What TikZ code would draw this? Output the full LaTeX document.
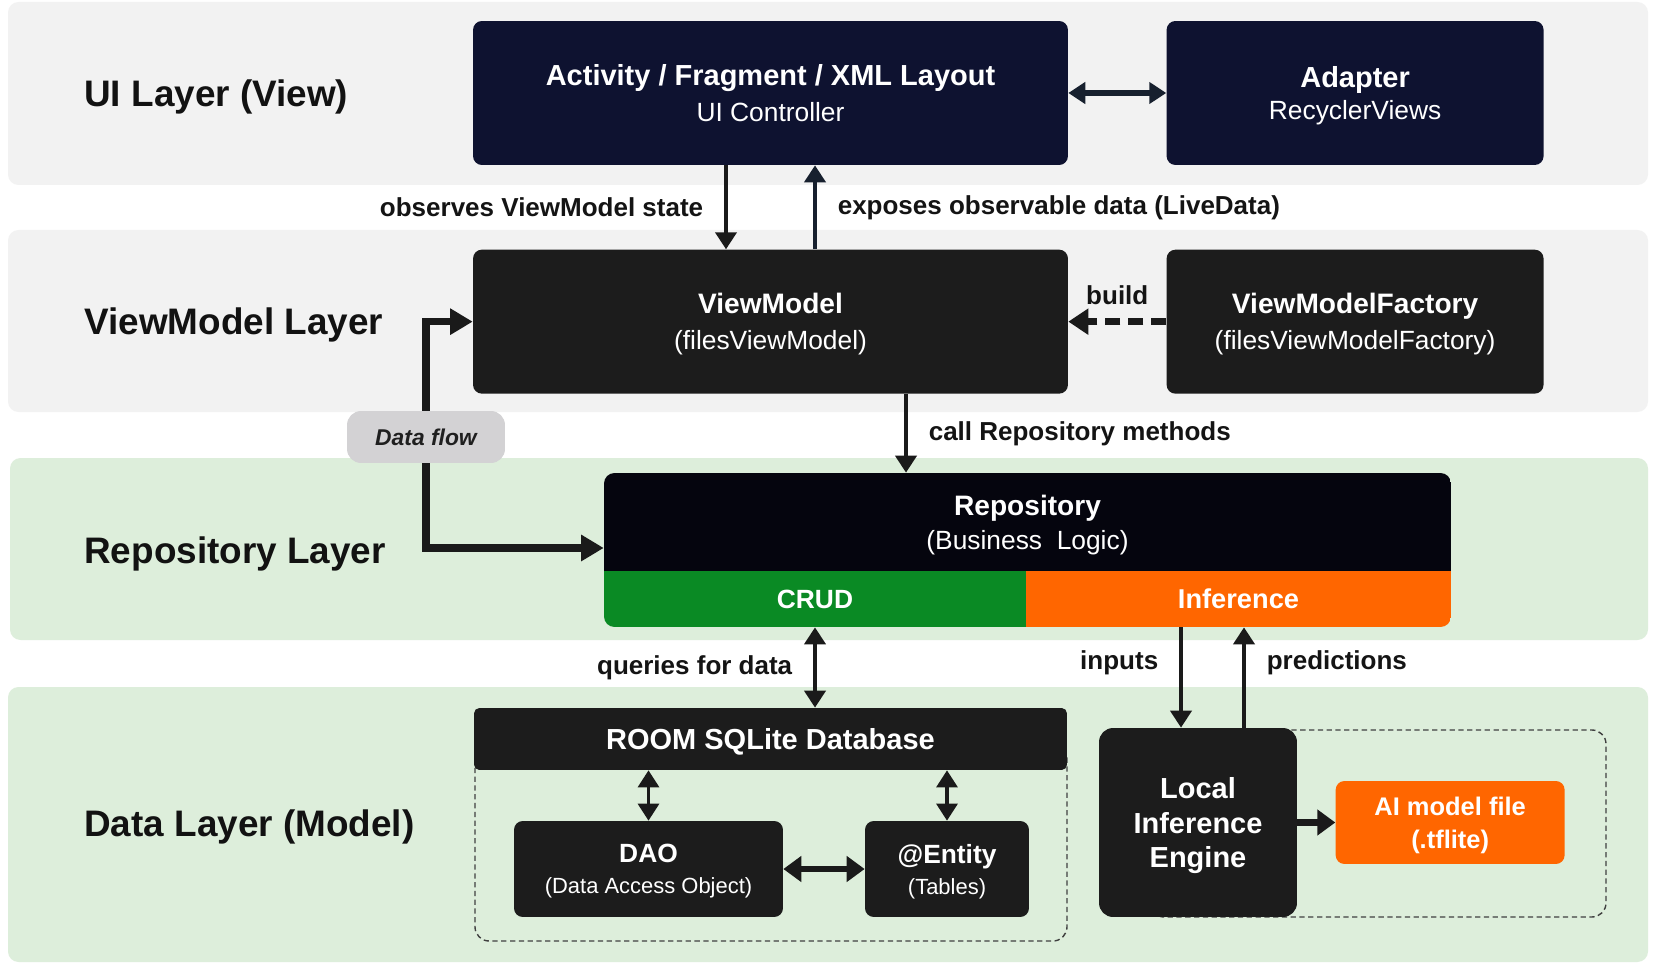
\documentclass[tikz,border=0pt]{standalone}
\usepackage{fontspec}
\setmainfont{Liberation Sans}
\usetikzlibrary{arrows.meta,positioning,calc}

\definecolor{bandgray}{HTML}{F2F2F2}
\definecolor{bandgreen}{HTML}{DDEEDB}
\definecolor{uinavy}{HTML}{0E1230}
\definecolor{boxblack}{HTML}{1C1C1C}
\definecolor{repoblack}{HTML}{05050E}
\definecolor{crudgreen}{HTML}{0A8A24}
\definecolor{inferorange}{HTML}{FF6600}
\definecolor{arrowdark}{HTML}{1A1A1A}
\definecolor{arrownavy}{HTML}{17202E}
\definecolor{flowgray}{HTML}{D3D2D4}

\tikzset{
  band/.style={rounded corners=6pt},
  layerlabel/.style={font=\fontsize{21}{25}\selectfont\bfseries, text=black!93, anchor=west, inner sep=0pt},
  boxbase/.style={rounded corners=5pt, text=white, align=center, inner sep=2pt, text depth=0pt},
  uibox/.style={boxbase, fill=uinavy},
  darkbox/.style={boxbase, fill=boxblack},
  lbl/.style={font=\fontsize{14.8}{17}\selectfont\bfseries, text=black!92},
  grpline/.style={draw=black!75, line width=0.8pt, densely dashed, rounded corners=8pt},
  arr/.style={draw=arrowdark, line width=2.2pt, -{Triangle[length=0.34cm,width=0.42cm]}},
  dblarr/.style={draw=arrowdark, line width=2.2pt, {Triangle[length=0.34cm,width=0.42cm]}-{Triangle[length=0.34cm,width=0.42cm]}},
  thickdbl/.style={draw=arrowdark, line width=3.4pt, {Triangle[length=0.36cm,width=0.5cm]}-{Triangle[length=0.36cm,width=0.5cm]}},
  thickarr/.style={draw=arrowdark, line width=4pt, -{Triangle[length=0.36cm,width=0.5cm]}},
  flowarr/.style={draw=arrowdark, line width=4pt, -{Triangle[length=0.45cm,width=0.5cm]}},
  dasharr/.style={draw=arrowdark, line width=4pt, dash pattern=on 0.3cm off 0.16cm, -{Triangle[length=0.4cm,width=0.5cm]}},
}

\begin{document}
\begin{tikzpicture}[x=0.02cm, y=-0.02cm]
  \useasboundingbox (0,0) rectangle (1654,966);
  \fill[white] (0,0) rectangle (1654,966);

  % layer bands
  \fill[band, bandgray] (8,2) rectangle (1648,185);
  \fill[band, bandgray] (8,230) rectangle (1648,412);
  \fill[band, bandgreen] (10,458) rectangle (1648,640);
  \fill[band, bandgreen] (8,687) rectangle (1648,962);

  % layer names
  \node[layerlabel] (uiname) at (84,97) {UI Layer (View)};
  \node[layerlabel] (vmname) at (84,325) {ViewModel Layer};
  \node[layerlabel] (reponame) at (84,554) {Repository Layer};
  \node[layerlabel] (dataname) at (84,827) {Data Layer (Model)};

  % UI layer
  \node[uibox, minimum width=11.9cm, minimum height=2.88cm, font=\fontsize{16.5}{20.4}\selectfont] (act) at (770.5,93)
    {\textbf{Activity / Fragment / XML Layout}\\{\fontsize{15}{20.4}\selectfont UI Controller}};
  \node[uibox, minimum width=7.54cm, minimum height=2.88cm, font=\fontsize{16.5}{18.5}\selectfont, right=1.96cm of act] (adapt)
    {\textbf{Adapter}\\{\fontsize{15}{18.5}\selectfont RecyclerViews}};

  % ViewModel layer
  \node[darkbox, minimum width=11.9cm, minimum height=2.88cm, font=\fontsize{16}{20.4}\selectfont, below=1.68cm of act] (vm)
    {\textbf{ViewModel}\\{\fontsize{15}{20.4}\selectfont (filesViewModel)}};
  \node[darkbox, minimum width=7.54cm, minimum height=2.88cm, font=\fontsize{16}{20.4}\selectfont, right=1.96cm of vm] (vmf)
    {\textbf{ViewModelFactory}\\{\fontsize{15}{20.4}\selectfont (filesViewModelFactory)}};

  % Repository layer
  \begin{scope}
    \clip[rounded corners=6pt] (604,473) rectangle (1451,627);
    \node[fill=repoblack, text=white, align=center, minimum width=16.94cm, minimum height=1.96cm,
          text depth=0pt, font=\fontsize{16}{19.3}\selectfont] (repo) at (1027.5,522)
      {\textbf{Repository}\\{\fontsize{15}{19.3}\selectfont (Business\ \ Logic)}};
    \node[fill=crudgreen, text=white, minimum width=8.44cm, minimum height=1.12cm,
          font=\fontsize{15}{18}\selectfont\bfseries] (crud) at (815,599) {CRUD};
    \node[fill=inferorange, text=white, minimum width=8.5cm, minimum height=1.12cm,
          font=\fontsize{15.5}{18}\selectfont\bfseries] (infer) at (1238.5,599) {Inference};
  \end{scope}

  % Data layer groups
  \draw[grpline] (475,745) rectangle (1067,941);
  \draw[grpline] (1150,730) rectangle (1606,917);

  \node[darkbox, minimum width=11.86cm, minimum height=1.24cm, rounded corners=3pt,
        font=\fontsize{16.5}{20}\selectfont\bfseries] (room) at (770.5,739) {ROOM\ SQLite\ Database};
  \node[darkbox, minimum width=5.38cm, minimum height=1.92cm, font=\fontsize{15}{17.6}\selectfont] (dao) at (648.5,869)
    {\textbf{DAO}\\{\fontsize{12.5}{17.6}\selectfont (Data Access Object)}};
  \node[darkbox, minimum width=3.28cm, minimum height=1.92cm, font=\fontsize{15}{17.6}\selectfont] (ent) at (947,869)
    {\textbf{@Entity}\\{\fontsize{12.5}{17.6}\selectfont (Tables)}};
  \node[darkbox, minimum width=3.96cm, minimum height=3.78cm, rounded corners=8pt,
        font=\fontsize{16.5}{19.9}\selectfont\bfseries] (eng) at (1198,822.5) {Local\\Inference\\Engine};
  \node[boxbase, fill=inferorange, minimum width=4.58cm, minimum height=1.66cm,
        font=\fontsize{14.5}{18.7}\selectfont\bfseries, right=0.76cm of eng] (aim) {AI model file\\(.tflite)};

  % data flow tag
  \node[fill=flowgray, rounded corners=8pt, minimum width=3.16cm, minimum height=1.04cm,
        font=\fontsize{13}{15}\selectfont\bfseries\itshape, text=black!88] (df) at (426,437) {Data flow};

  % connectors
  \draw[dblarr, draw=arrownavy, line width=3.2pt] (act.east) -- (adapt.west);
  \draw[arr] (act.south -| 726,0) -- node[lbl, left=0.3cm] {observes ViewModel state} (vm.north -| 726,0);
  \draw[arr, draw=arrownavy] (vm.north -| 815,0) -- node[lbl, right=0.3cm] {exposes observable data (LiveData)} (act.south -| 815,0);
  \draw[dasharr] (vmf.west) -- node[lbl, above=0.15cm] {build} (vm.east);
  \draw[arr] (vm.south -| 906,0) -- node[lbl, right=0.3cm] {call Repository methods} (repo.north -| 906,0);
  \draw[flowarr] (df.north) |- (vm.west);
  \draw[flowarr] (df.south) |- ([yshift=-0.52cm]repo.west);
  \draw[dblarr] (crud.south) -- node[lbl, left=0.3cm] {queries for data} (room.north -| crud.south);
  \draw[arr] (infer.south -| 1181,0) -- node[lbl, left=0.3cm, pos=0.35] {inputs} (eng.north -| 1181,0);
  \draw[arr] (eng.north -| 1244,0) -- node[lbl, right=0.3cm, pos=0.65] {predictions} (infer.south -| 1244,0);
  \draw[dblarr, line width=1.8pt] (room.south -| dao.north) -- (dao.north);
  \draw[dblarr, line width=1.8pt] (room.south -| ent.north) -- (ent.north);
  \draw[thickdbl] (dao.east) -- (ent.west);
  \draw[thickarr] (eng.east) -- (aim.west);
\end{tikzpicture}
\end{document}
